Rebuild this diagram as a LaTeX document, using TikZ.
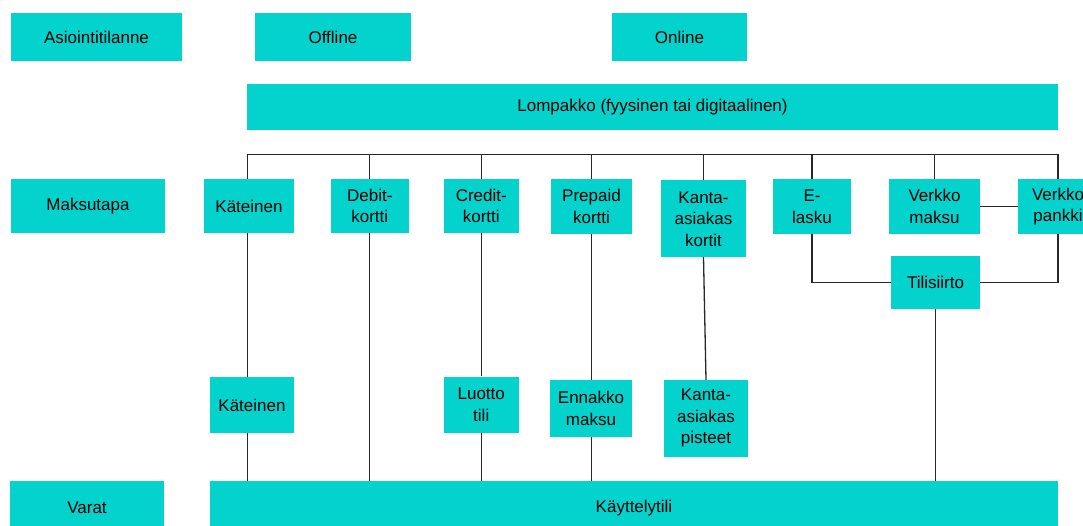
\documentclass[tikz,border=0pt]{standalone}
\usepackage{fontspec}
\setmainfont{Liberation Sans}
\definecolor{boxcyan}{RGB}{4,211,205}
\definecolor{linegray}{RGB}{40,40,40}
\begin{document}
\begin{tikzpicture}[x=1pt,y=-1pt,
  box/.style={fill=boxcyan, draw=none, inner sep=0pt, align=center, text=black,
    font=\fontsize{17}{21.5}\selectfont},
  conn/.style={draw=linegray, line width=1.3pt}]
\useasboundingbox (0,0) rectangle (1083,526);
% top row
\node[box, minimum width=171, minimum height=48] (asi) at (96.5,37) {Asiointitilanne};
\node[box, minimum width=156, minimum height=48] (off) at (333,37) {Offline};
\node[box, minimum width=135, minimum height=48] (onl) at (679.5,37) {Online};
\node[box, minimum width=811, minimum height=46] (lom) at (652.5,107) {Lompakko (fyysinen tai digitaalinen)};
% maksutapa row
\node[box, minimum width=154, minimum height=54] (mak) at (88,206) {Maksutapa};
\node[box, minimum width=90, minimum height=54] (kat) at (249,206) {Käteinen};
\node[box, minimum width=78.5, minimum height=54] (deb) at (369.75,206) {Debit-\\kortti};
\node[box, minimum width=75.5, minimum height=54] (cre) at (481.25,206) {Credit-\\kortti};
\node[box, minimum width=81, minimum height=55] (pre) at (591.5,206.5) {Prepaid\\kortti};
\node[box, minimum width=85, minimum height=76.5] (kak) at (703.5,218.75) {Kanta-\\asiakas\\kortit};
\node[box, minimum width=78, minimum height=55] (ela) at (812,206.5) {E-\\lasku};
\node[box, minimum width=91, minimum height=55] (vma) at (934.5,206.5) {Verkko\\maksu};
\node[box, minimum width=80, minimum height=55] (vpa) at (1058,206.5) {Verkko\\pankki};
\node[box, minimum width=89, minimum height=53] (til) at (935.5,282.5) {Tilisiirto};
% varat level
\node[box, minimum width=84, minimum height=56] (kat2) at (252,405) {Käteinen};
\node[box, minimum width=75.5, minimum height=56.5] (luo) at (481.25,404.75) {Luotto\\tili};
\node[box, minimum width=82, minimum height=56.5] (enn) at (591,408.25) {Ennakko\\maksu};
\node[box, minimum width=84, minimum height=76.6] (kap) at (706,418.3) {Kanta-\\asiakas\\pisteet};
\node[box, minimum width=154, minimum height=54] (var) at (87,508) {Varat};
\node[box, minimum width=848, minimum height=54] (kay) at (634,508) {Käyttelytili};
% bus
\coordinate (bus) at (0,154.5);
\coordinate (kx) at (247.5,0);
\draw[conn] (kat.north -| kx) -- (kx |- bus) -- (vpa.north |- bus) -- (vpa.north);
\foreach \n in {deb,cre,pre,kak,ela,vma}
  \draw[conn] (\n.north) -- (\n.north |- bus);
% lower connectors
\draw[conn] (kat.south -| kx) -- (kat2.north -| kx);
\draw[conn] (kat2.south -| kx) -- (kay.north -| kx);
\draw[conn] (deb.south) -- (deb.south |- kay.north);
\draw[conn] (cre.south) -- (luo.north);
\draw[conn] (luo.south) -- (luo.south |- kay.north);
\draw[conn] (pre.south) -- (pre.south |- enn.north);
\draw[conn] (enn.south -| pre.south) -- (pre.south |- kay.north);
\draw[conn] (kak.south) -- (kap.north);
\draw[conn] (ela.south) |- (til.west);
\draw[conn] (vpa.south) |- (til.east);
\draw[conn] (vma.east) -- (vpa.west);
\draw[conn] (til.south) -- (til.south |- kay.north);
\end{tikzpicture}
\end{document}
